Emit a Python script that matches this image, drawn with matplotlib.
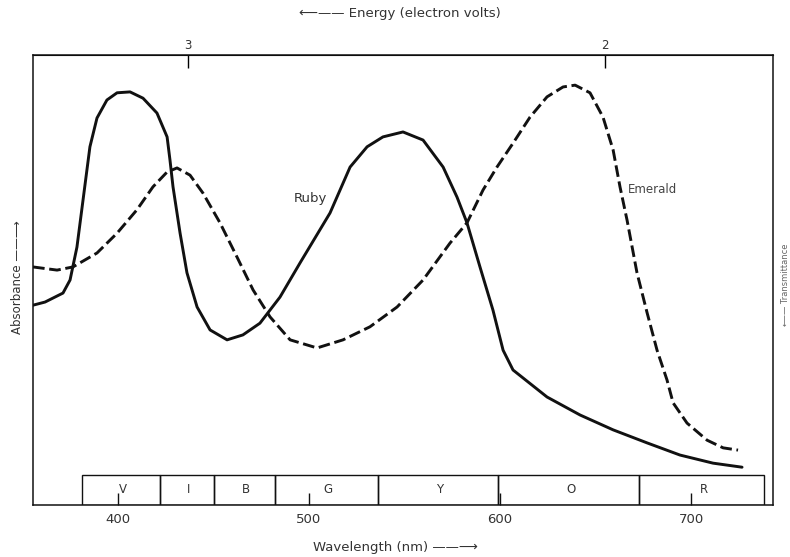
import matplotlib
matplotlib.use("Agg")
import matplotlib.pyplot as plt
from matplotlib.patches import Rectangle

# ---- data (wavelength in nm, absorbance in arbitrary units 0-100) ----
ruby_nm = [355.5, 361.8, 371.2, 374.9, 378.5, 381.7, 385.3, 389.0, 394.2, 399.5,
           406.3, 413.1, 420.4, 425.7, 427.2, 428.8, 432.5, 436.1, 441.4, 448.2,
           457.1, 465.4, 474.3, 484.8, 495.3, 511.0, 521.5, 530.4, 538.7, 549.2,
           559.7, 570.2, 577.5, 582.7, 589.5, 596.3, 601.6, 606.8, 624.6, 641.9,
           659.2, 677.0, 694.2, 711.5, 726.7]
ruby_abs = [44.4, 45.1, 47.1, 50.0, 57.3, 67.8, 79.6, 86.0, 90.0, 91.6,
            91.8, 90.4, 87.1, 81.8, 76.7, 70.7, 60.4, 51.6, 44.0, 38.9,
            36.7, 37.8, 40.4, 46.2, 53.8, 64.9, 75.1, 79.6, 81.8, 82.9,
            81.1, 75.1, 68.4, 62.7, 52.9, 43.3, 34.4, 30.0, 24.0, 20.0,
            16.7, 13.8, 11.1, 9.3, 8.4]

emerald_nm = [355.5, 368.1, 376.4, 389.0, 399.5, 409.9, 418.3, 425.7, 430.9, 437.7,
              444.5, 453.4, 462.3, 470.7, 479.6, 490.1, 504.2, 517.8, 531.9, 546.1,
              559.7, 573.8, 582.7, 591.1, 598.4, 606.8, 615.7, 624.6, 633.0, 639.3,
              647.1, 653.9, 659.2, 662.8, 666.5, 671.7, 677.0, 682.2, 687.4, 690.6,
              697.9, 708.4, 716.8, 724.6]
emerald_abs = [52.9, 52.2, 52.9, 56.0, 60.4, 65.6, 70.7, 74.0, 74.9, 73.3,
               69.3, 62.7, 55.1, 47.8, 41.8, 36.7, 34.9, 36.7, 39.6, 44.0,
               50.0, 58.2, 62.7, 70.0, 75.1, 80.4, 86.2, 90.7, 92.9, 93.3,
               91.6, 86.2, 78.9, 70.7, 63.3, 51.6, 42.7, 34.4, 27.8, 22.7,
               18.2, 14.4, 12.7, 12.2]

band_labels = ["V", "I", "B", "G", "Y", "O", "R"]
band_edges = [381, 422, 450, 482, 536, 599, 673, 738]

wl_ticks = [400, 500, 600, 700]
energy_ticks = [3, 2]
ENERGY_CONST = 1310.0  # nm*eV as drawn on the chart

# ---- figure ----
fig = plt.figure(figsize=(7.9, 5.57), dpi=100)
ax = fig.add_axes([33/790, 1-505/557, (773-33)/790, (505-55)/557])
ax.set_xlim(355.5, 742.9)
ax.set_ylim(0, 100)

ink = "#111111"
txt = "#333333"
ax.plot(ruby_nm, ruby_abs, color=ink, lw=2.1, solid_capstyle="round",
        solid_joinstyle="round")
ax.plot(emerald_nm, emerald_abs, color=ink, lw=2.1, linestyle=(0, (4.0, 1.6)))

# colour bands
band_h = 6.7
for i, lab in enumerate(band_labels):
    x0, x1 = band_edges[i], band_edges[i + 1]
    ax.add_patch(Rectangle((x0, 0), x1 - x0, band_h, fill=False,
                           edgecolor=ink, lw=1.0, zorder=3))
    ax.text((x0 + x1) / 2 + 1, band_h / 2, lab, ha="center", va="center",
            fontsize=8.5, color=txt, zorder=4)

# axes styling
for s in ax.spines.values():
    s.set_linewidth(1.1)
    s.set_color(ink)
ax.set_yticks([])
ax.set_xticks(wl_ticks)
ax.set_xticklabels([str(t) for t in wl_ticks])
ax.tick_params(axis="x", direction="in", length=9, width=1.0, pad=6,
               labelsize=9.5, colors=ink)
for lbl in ax.get_xticklabels():
    lbl.set_color(txt)

sec = ax.secondary_xaxis("top", functions=(lambda x: ENERGY_CONST / x,
                                           lambda e: ENERGY_CONST / e))
sec.set_xticks(energy_ticks)
sec.set_xticklabels([str(t) for t in energy_ticks])
sec.tick_params(direction="in", length=9, width=1.0, pad=2, labelsize=8.5)
for lbl in sec.get_xticklabels():
    lbl.set_color(txt)

# curve labels
ax.text(500.5, 68.2, "Ruby", fontsize=9.5, color=txt, ha="center", va="center")
ax.text(667.0, 70.2, "Emerald", fontsize=8.5, color="#444444", ha="left", va="center")

# axis titles
fig.text(400/790, 1-14/557, "\u27f5\u2014\u2014 Energy (electron volts)",
         ha="center", va="center", fontsize=9.5, color=txt)
fig.text(395/790, 1-548/557, "Wavelength (nm) \u2014\u2014\u27f6",
         ha="center", va="center", fontsize=9.5, color=txt)
fig.text(18/790, 1-277/557, "Absorbance \u2014\u2014\u27f6", rotation=90,
         ha="center", va="center", fontsize=8.5, color=txt)
fig.text(786/790, 1-285/557, "\u27f5\u2014 Transmittance", rotation=90,
         ha="center", va="center", fontsize=6, color="#666666")

fig.savefig("out.png", dpi=100)
